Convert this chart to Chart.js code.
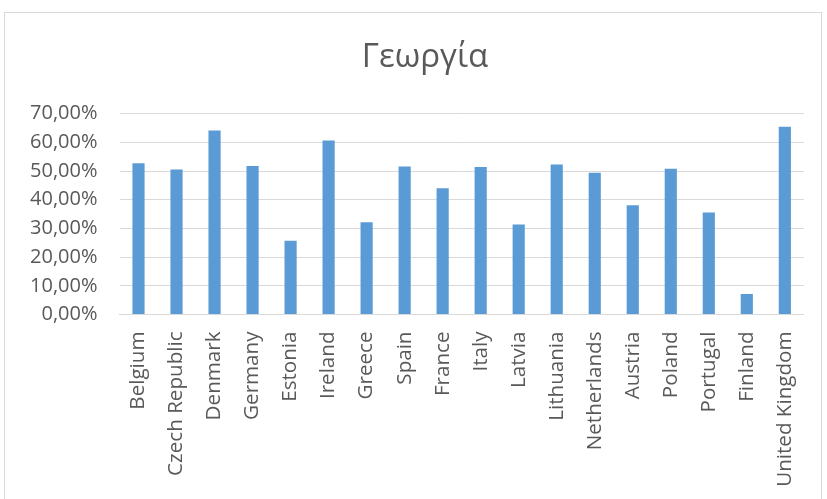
<!DOCTYPE html>
<html>
<head>
<meta charset="utf-8">
<script src="https://cdn.jsdelivr.net/npm/chart.js@4/dist/chart.umd.min.js"></script>
<style>
    html, body { margin: 0; padding: 0; background: #fff; }
    #wrap { position: relative; width: 827px; height: 499px; overflow: hidden; }
    #frame { position: absolute; left: 4px; top: 12px; width: 818px; height: 500px; border: 1px solid #d9d9d9; box-sizing: border-box; }
    canvas { position: absolute; left: 0; top: 0; }
</style>
</head>
<body>
<div id="wrap">
    <div id="frame"></div>
    <canvas id="chart" width="827" height="499"></canvas>
</div>
<script>
// 数据
const titleText = 'Γεωργία';
const countries = ['Belgium', 'Czech Republic', 'Denmark', 'Germany', 'Estonia', 'Ireland', 'Greece', 'Spain',
    'France', 'Italy', 'Latvia', 'Lithuania', 'Netherlands', 'Austria', 'Poland', 'Portugal', 'Finland', 'United Kingdom'];
const shares = [52.7, 50.5, 64.1, 51.7, 25.7, 60.6, 32.1, 51.6,
    44.0, 51.4, 31.4, 52.3, 49.4, 38.1, 50.8, 35.5, 7.1, 65.4];
const yMax = 70;
const yStep = 10;

const textColor = '#595959';
const gridColor = '#d9d9d9';
const barColor = '#5b9bd5';

// 格式化为 12,34%
function formatPercent(v) {
    return v.toFixed(2).replace('.', ',') + '%';
}

// 标题右移，使其居中在 425 左右
const titleShift = {
    id: 'titleShift',
    afterLayout(chart) {
        const t = chart.titleBlock;
        if (t) {
            t.left += 19.5;
            t.right += 19.5;
        }
    }
};

const ctx = document.getElementById('chart').getContext('2d');
new Chart(ctx, {
    type: 'bar',
    data: {
        labels: countries,
        datasets: [{
            data: shares,
            backgroundColor: barColor,
            borderColor: barColor,
            borderWidth: 0,
            barPercentage: 0.32,
            categoryPercentage: 1
        }]
    },
    options: {
        responsive: false,
        animation: false,
        layout: { padding: { left: 0, right: 16, top: 0, bottom: 0 } },
        plugins: {
            legend: { display: false },
            tooltip: { enabled: false },
            title: {
                display: true,
                text: titleText,
                color: textColor,
                font: { family: 'Open Sans', size: 33, weight: 'normal' },
                padding: { top: 38, bottom: 36 }
            }
        },
        scales: {
            x: {
                grid: { display: false, drawTicks: false },
                border: { display: true, color: gridColor, width: 1 },
                ticks: {
                    color: textColor,
                    font: { family: 'Open Sans', size: 20.6 },
                    maxRotation: 90,
                    minRotation: 90,
                    autoSkip: false,
                    padding: 17
                },
                afterFit(scale) { scale.height = 184.5; }
            },
            y: {
                min: 0,
                max: yMax,
                grid: { color: gridColor, lineWidth: 1, drawTicks: false },
                border: { display: false },
                ticks: {
                    stepSize: yStep,
                    color: textColor,
                    font: { family: 'Open Sans', size: 20 },
                    padding: 22,
                    callback: (v) => formatPercent(v)
                },
                afterFit(scale) { scale.width = 119.5; }
            }
        }
    },
    plugins: [titleShift]
});
</script>
</body>
</html>
